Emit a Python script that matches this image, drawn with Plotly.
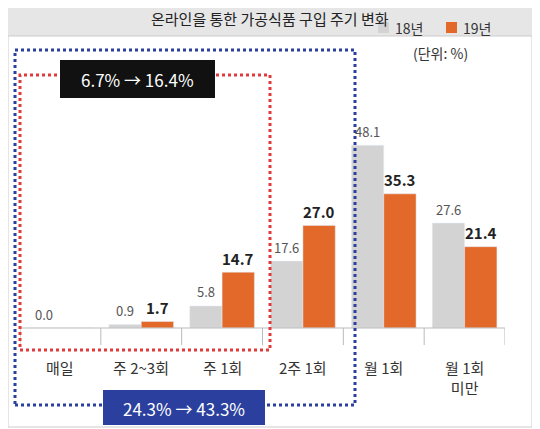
import plotly.graph_objects as go

categories = ["매일", "주 2~3회", "주 1회", "2주 1회", "월 1회", "월 1회<br>미만"]
y18 = [0.0, 0.9, 5.8, 17.6, 48.1, 27.6]
y19 = [0.0, 1.7, 14.7, 27.0, 35.3, 21.4]
lab18 = ["0.0", "0.9", "5.8", "17.6", "48.1", "27.6"]
lab19 = ["", "1.7", "14.7", "27.0", "35.3", "21.4"]

GREY = "#d3d3d3"
ORANGE = "#e2692a"
OFF = 8
W, H = 540, 429
L, R, T, B = 20 - OFF, 505 - OFF, 100 - OFF, 328 - OFF

def px(x): return (x - OFF - L) / (R - L)
def py(y): return (B - (y - OFF)) / (B - T)

xs = list(range(len(categories)))
fig = go.Figure()
fig.add_bar(x=xs, y=y18, name="18년", marker_color=GREY, offsetgroup=0)
fig.add_bar(x=xs, y=y19, name="19년", marker_color=ORANGE, offsetgroup=1)

def A(x, y, text, size, color="#333", xa="center"):
    return dict(x=px(x), y=py(y), xref="paper", yref="paper", text=text, showarrow=False,
                xanchor=xa, yanchor="middle", font=dict(size=size, color=color))

ann = []
for i, (a, b) in enumerate(zip(y18, y19)):
    ann.append(dict(x=i - 0.2, y=a, text=lab18[i], showarrow=False, yshift=14, yanchor="middle",
                    font=dict(size=13, color="#555")))
    if lab19[i]:
        ann.append(dict(x=i + 0.2, y=b, text="<b>" + lab19[i] + "</b>", showarrow=False, yshift=14,
                        yanchor="middle", font=dict(size=15, color="#222")))
for i, c in enumerate(categories):
    ann.append(dict(x=i, y=py(355), yref="paper", text=c, showarrow=False, yanchor="top",
                    font=dict(size=15, color="#333")))

shapes = []
shapes.append(dict(type="rect", xref="paper", yref="paper", x0=px(8), x1=px(532), y0=py(36), y1=py(3),
                   fillcolor="#e6e6e6", line=dict(width=0), layer="below"))
shapes.append(dict(type="rect", xref="paper", yref="paper", x0=px(8), x1=px(532), y0=py(427), y1=py(36),
                   line=dict(color="#cccccc", width=1), layer="below"))
shapes.append(dict(type="line", xref="paper", yref="paper", x0=0, x1=1, y0=0, y1=0,
                   line=dict(color="#bbbbbb", width=1)))
for i in range(len(categories) + 1):
    shapes.append(dict(type="line", xref="x", yref="paper", x0=i - 0.5, x1=i - 0.5, y0=0, y1=py(345),
                       line=dict(color="#bbbbbb", width=1)))
shapes.append(dict(type="rect", xref="paper", yref="paper", x0=px(15), x1=px(355), y0=py(405), y1=py(50),
                   line=dict(color="#2b3f9e", width=3, dash="dot")))
shapes.append(dict(type="rect", xref="paper", yref="paper", x0=px(20), x1=px(270), y0=py(350), y1=py(75),
                   line=dict(color="#e03a3a", width=3, dash="dot")))
shapes.append(dict(type="rect", xref="paper", yref="paper", x0=px(60), x1=px(215), y0=py(98), y1=py(60),
                   fillcolor="#111111", line=dict(width=0)))
shapes.append(dict(type="rect", xref="paper", yref="paper", x0=px(103), x1=px(265), y0=py(425), y1=py(390),
                   fillcolor="#2b3f9e", line=dict(width=0)))
shapes.append(dict(type="rect", xref="paper", yref="paper", x0=px(378), x1=px(389), y0=py(33), y1=py(22),
                   fillcolor=GREY, line=dict(width=0)))
shapes.append(dict(type="rect", xref="paper", yref="paper", x0=px(446), x1=px(457), y0=py(33), y1=py(22),
                   fillcolor=ORANGE, line=dict(width=0)))

ann += [
    A(270, 19, "온라인을 통한 가공식품 구입 주기 변화", 15, "#222"),
    A(137, 79, "6.7% → 16.4%", 17, "white"),
    A(184, 408, "24.3% → 43.3%", 17, "white"),
    A(393, 28, "18년", 14, xa="left"),
    A(461, 28, "19년", 14, xa="left"),
    A(440, 53, "(단위: %)", 14),
]

fig.update_layout(
    width=W, height=H, margin=dict(l=L, r=W - R, t=T, b=H - B),
    paper_bgcolor="white", plot_bgcolor="white",
    font=dict(family="Noto Sans CJK KR"),
    showlegend=False, barmode="group", bargap=0.2, bargroupgap=0,
    xaxis=dict(range=[-0.5, 5.5], showticklabels=False, showgrid=False, zeroline=False, fixedrange=True),
    yaxis=dict(range=[0, 60], visible=False, fixedrange=True),
    shapes=shapes, annotations=ann,
)
fig.write_html("out.html")
